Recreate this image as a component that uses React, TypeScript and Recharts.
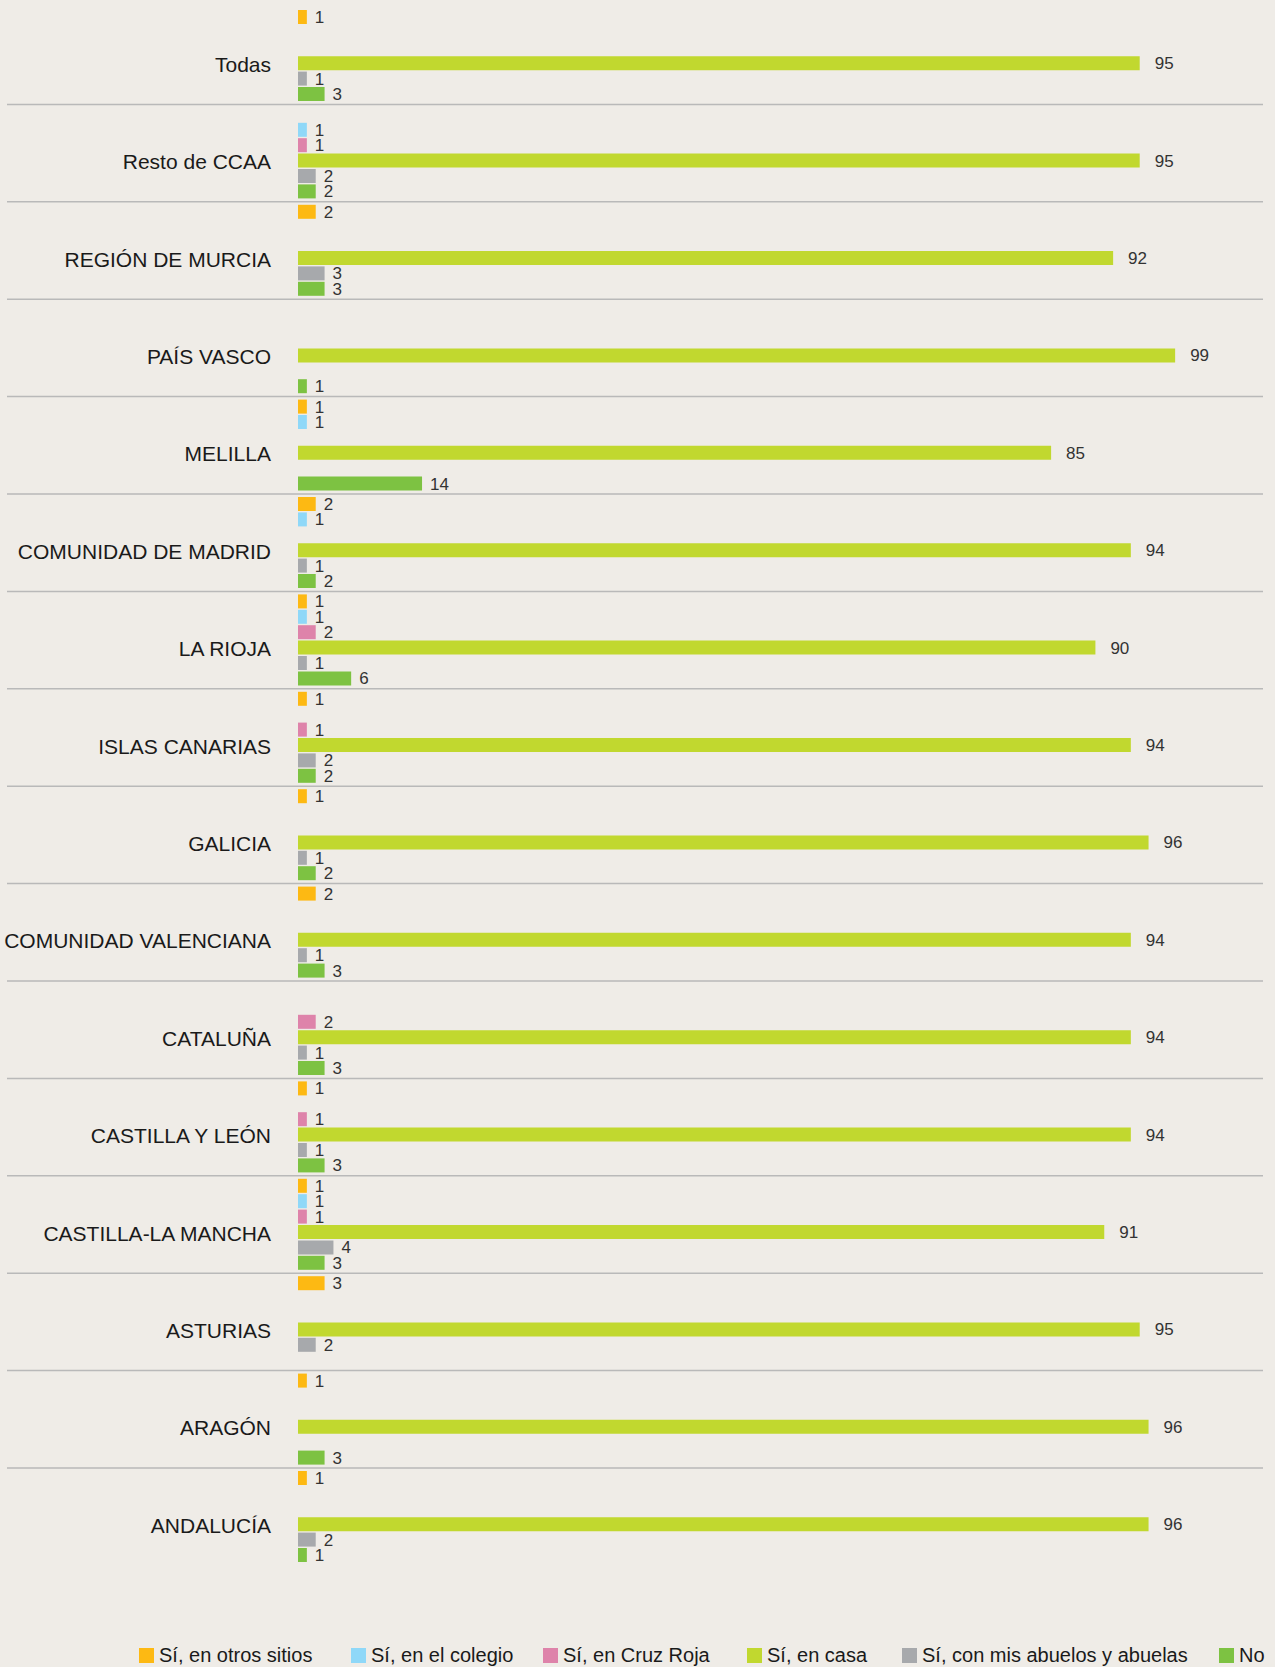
import { BarChart, Bar, XAxis, YAxis, LabelList } from "recharts";

const CATEGORIES = [
  "Todas",
  "Resto de CCAA",
  "REGIÓN DE MURCIA",
  "PAÍS VASCO",
  "MELILLA",
  "COMUNIDAD DE MADRID",
  "LA RIOJA",
  "ISLAS CANARIAS",
  "GALICIA",
  "COMUNIDAD VALENCIANA",
  "CATALUÑA",
  "CASTILLA Y LEÓN",
  "CASTILLA-LA MANCHA",
  "ASTURIAS",
  "ARAGÓN",
  "ANDALUCÍA",
];

// null = no answer in that group (no bar, no label)
const OTROS_SITIOS = [1, null, 2, null, 1, 2, 1, 1, 1, 2, null, 1, 1, 3, 1, 1];
const COLEGIO = [null, 1, null, null, 1, 1, 1, null, null, null, null, null, 1, null, null, null];
const CRUZ_ROJA = [null, 1, null, null, null, null, 2, 1, null, null, 2, 1, 1, null, null, null];
const CASA = [95, 95, 92, 99, 85, 94, 90, 94, 96, 94, 94, 94, 91, 95, 96, 96];
const ABUELOS = [1, 2, 3, null, null, 1, 1, 2, 1, 1, 1, 1, 4, 2, null, 2];
const NO = [3, 2, 3, 1, 14, 2, 6, 2, 2, 3, 3, 3, 3, null, 3, 1];

const SERIES = [
  { key: "otros", name: "Sí, en otros sitios", color: "#fdb913", values: OTROS_SITIOS },
  { key: "colegio", name: "Sí, en el colegio", color: "#8fd8f8", values: COLEGIO },
  { key: "cruz", name: "Sí, en Cruz Roja", color: "#de83aa", values: CRUZ_ROJA },
  { key: "casa", name: "Sí, en casa", color: "#c1d82f", values: CASA },
  { key: "abuelos", name: "Sí, con mis abuelos y abuelas", color: "#a7a9ac", values: ABUELOS },
  { key: "no", name: "No", color: "#7dc242", values: NO },
];

const LEGEND_X = [139, 351, 543, 747, 902, 1219];

const FONT = '"Liberation Sans", Arial, Helvetica, sans-serif';
const BG = "#efece7";
const TOP = 7;
const BAND = 97.4;

const data = CATEGORIES.map((name, i) => {
  const row: Record<string, string | number | null> = { name };
  SERIES.forEach((s) => {
    row[s.key] = s.values[i];
  });
  return row;
});

function CategoryTick(props: any) {
  const { y, payload, index } = props;
  return (
    <g>
      <text x={271} y={y + 16} textAnchor="end" fontSize={21} fill="#1a1a1a" fontFamily={FONT}>
        {payload.value}
      </text>
      {index < CATEGORIES.length - 1 && (
        <line x1={7} x2={1263} y1={y + BAND / 2} y2={y + BAND / 2} stroke="#b9b9b9" strokeWidth={1.5} />
      )}
    </g>
  );
}

function ValueLabel(props: any) {
  const { x, y, width, height, value } = props;
  if (value == null || value === 0) return null;
  const right = Number(x) + Number(width);
  const gap = Number(value) > 50 ? 15 : 8;
  return (
    <text
      x={right + gap}
      y={Number(y) + Number(height) / 2 + 6}
      fontSize={17}
      fill="#333"
      fontFamily={FONT}
    >
      {value}
    </text>
  );
}

export default function App() {
  return (
    <div style={{ position: "absolute", top: 0, left: 0, width: 1275, height: 1667, background: BG, fontFamily: FONT }}>
      <BarChart
        width={1275}
        height={1667}
        data={data}
        layout="vertical"
        margin={{ top: TOP, right: 91, bottom: 1667 - TOP - BAND * CATEGORIES.length, left: 0 }}
        barSize={14}
        barGap={1.4}
      >
        <XAxis type="number" domain={[0, 100]} hide />
        <YAxis
          type="category"
          dataKey="name"
          width={298}
          axisLine={false}
          tickLine={false}
          interval={0}
          tick={<CategoryTick />}
        />
        {SERIES.map((s) => (
          <Bar key={s.key} dataKey={s.key} name={s.name} fill={s.color} isAnimationActive={false}>
            <LabelList dataKey={s.key} content={<ValueLabel />} />
          </Bar>
        ))}
      </BarChart>
      {SERIES.map((s, i) => (
        <div
          key={s.key}
          style={{
            position: "absolute",
            left: LEGEND_X[i],
            top: 1644,
            display: "flex",
            alignItems: "center",
            whiteSpace: "nowrap",
            fontSize: 20,
            color: "#1a1a1a",
          }}
        >
          <span style={{ display: "inline-block", width: 15, height: 15, background: s.color, marginRight: 5 }} />
          {s.name}
        </div>
      ))}
    </div>
  );
}
